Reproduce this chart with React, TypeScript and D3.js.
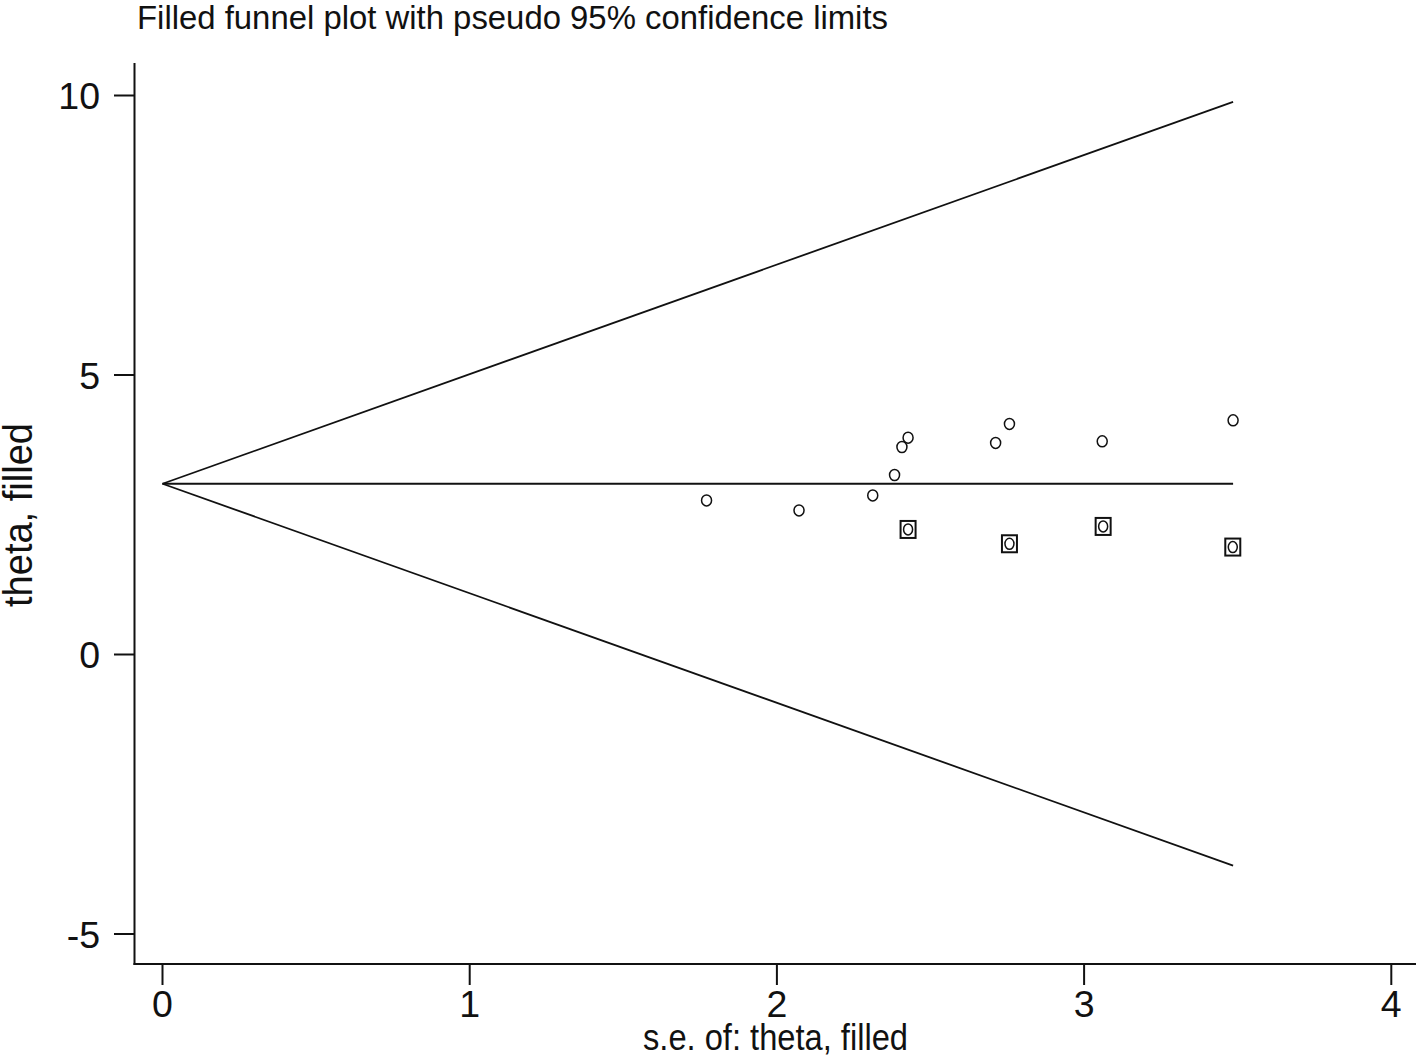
import React from "react";
import * as d3 from "d3";

const titleText = "Filled funnel plot with pseudo 95% confidence limits";
const xTitle = "s.e. of: theta, filled";
const yTitle = "theta, filled";
const xTicks = [0, 1, 2, 3, 4];
const yTicks = [-5, 0, 5, 10];

const pooledTheta = 3.055;
const zCrit = 1.96;

const observedSe = [1.771, 2.072, 2.312, 2.383, 2.407, 2.427, 2.712, 2.757, 3.059, 3.485];
const observedTheta = [2.756, 2.577, 2.846, 3.211, 3.712, 3.879, 3.784, 4.124, 3.813, 4.189];

const filledSe = [2.427, 2.757, 3.062, 3.484];
const filledTheta = [2.237, 1.981, 2.291, 1.922];

const W = 1418;
const H = 1062;

export default function App() {
  const x = d3.scaleLinear().domain([0, 4]).range([162.5, 1391.3]);
  const y = d3.scaleLinear().domain([-5, 10]).range([934, 95.5]);

  const allSe = observedSe.concat(filledSe);
  const maxSe = d3.max(allSe) as number;

  const line = d3
    .line<[number, number]>()
    .x((d) => x(d[0]))
    .y((d) => y(d[1]));

  const upper = line([
    [0, pooledTheta],
    [maxSe, pooledTheta + zCrit * maxSe],
  ]) as string;
  const lower = line([
    [0, pooledTheta],
    [maxSe, pooledTheta - zCrit * maxSe],
  ]) as string;
  const mid = line([
    [0, pooledTheta],
    [maxSe, pooledTheta],
  ]) as string;

  const axisLeftX = 134.5;
  const axisBottomY = 964;
  const axisTopY = 63;
  const axisRightX = 1416;
  const ink = "#111";
  const font = "'Liberation Sans', Arial, sans-serif";

  return (
    <svg
      width={W}
      height={H}
      style={{ position: "absolute", left: 0, top: 0, background: "#fff" }}
      fontFamily={font}
    >
      <rect x={0} y={0} width={W} height={H} fill="#fff" />
      <text x={137} y={28.5} fontSize={32.5} fill={ink} textLength={751} lengthAdjust="spacingAndGlyphs">
        {titleText}
      </text>

      {/* axes */}
      <line x1={axisLeftX} y1={axisTopY} x2={axisLeftX} y2={axisBottomY + 1} stroke={ink} strokeWidth={2} />
      <line x1={axisLeftX - 1} y1={axisBottomY} x2={axisRightX} y2={axisBottomY} stroke={ink} strokeWidth={2} />

      {yTicks.map((t) => (
        <g key={"y" + t}>
          <line x1={114} x2={axisLeftX} y1={y(t)} y2={y(t)} stroke={ink} strokeWidth={2} />
          <text x={100} y={y(t) + 13.5} fontSize={37.5} textAnchor="end" fill={ink}>
            {t}
          </text>
        </g>
      ))}
      {xTicks.map((t) => (
        <g key={"x" + t}>
          <line x1={x(t)} x2={x(t)} y1={axisBottomY} y2={985} stroke={ink} strokeWidth={2} />
          <text x={x(t)} y={1016.5} fontSize={37.5} textAnchor="middle" fill={ink}>
            {t}
          </text>
        </g>
      ))}

      <text x={775.5} y={1050} fontSize={37.5} textAnchor="middle" fill={ink} textLength={265} lengthAdjust="spacingAndGlyphs">
        {xTitle}
      </text>
      <text
        transform="translate(32.3,515) rotate(-90)"
        fontSize={40}
        textAnchor="middle"
        fill={ink}
        textLength={184}
        lengthAdjust="spacingAndGlyphs"
      >
        {yTitle}
      </text>

      {/* funnel */}
      <path d={upper} fill="none" stroke={ink} strokeWidth={1.8} />
      <path d={lower} fill="none" stroke={ink} strokeWidth={1.8} />
      <path d={mid} fill="none" stroke={ink} strokeWidth={1.8} />

      {/* observed studies */}
      {observedSe.map((s, i) => (
        <ellipse key={"o" + i} cx={x(s)} cy={y(observedTheta[i])} rx={5} ry={5.5} fill="none" stroke={ink} strokeWidth={1.5} />
      ))}

      {/* filled studies */}
      {filledSe.map((s, i) => (
        <g key={"f" + i}>
          <rect x={x(s) - 7.5} y={y(filledTheta[i]) - 8.5} width={15} height={17} fill="none" stroke={ink} strokeWidth={2} />
          <ellipse cx={x(s)} cy={y(filledTheta[i])} rx={4.5} ry={5.5} fill="none" stroke={ink} strokeWidth={1.5} />
        </g>
      ))}
    </svg>
  );
}
